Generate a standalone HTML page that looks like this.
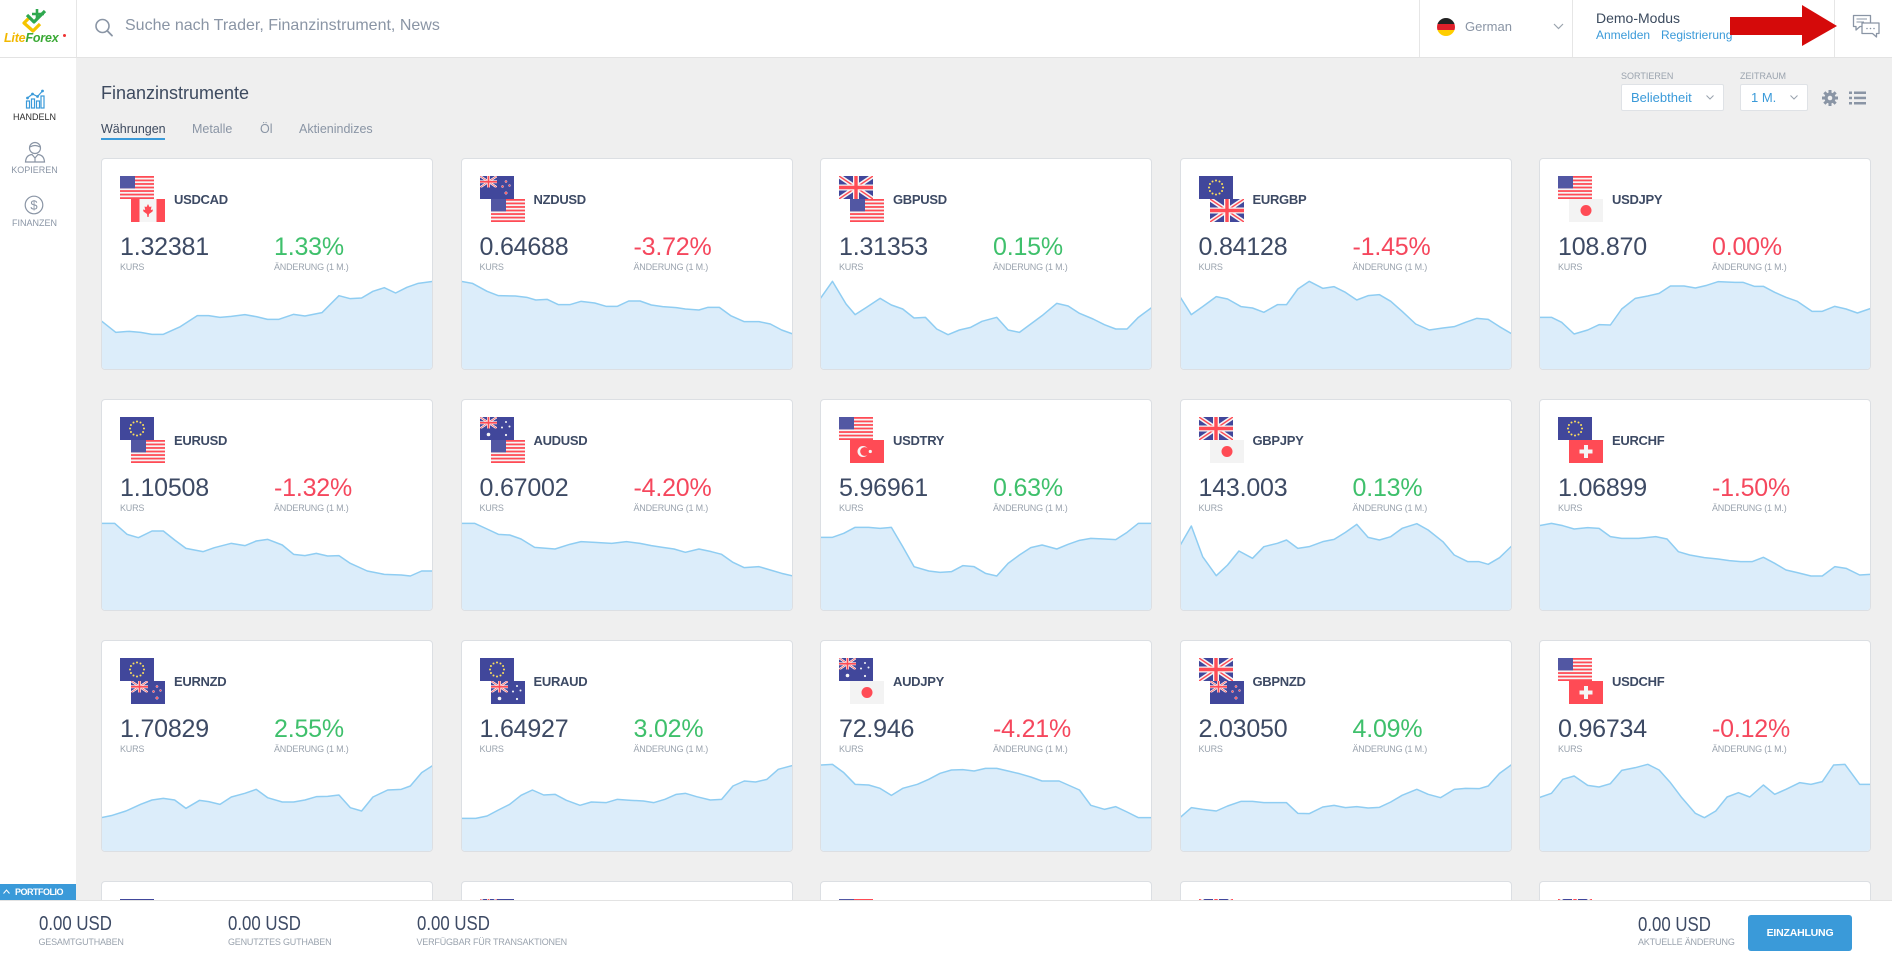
<!DOCTYPE html>
<html style="width:1892px;height:959px;overflow:hidden"><head><meta charset="utf-8">
<style>
*{box-sizing:border-box}
html,body{margin:0;width:1892px;height:959px;overflow:hidden}
body{background:#efefef;position:relative;font-family:"Liberation Sans",Arial,sans-serif}
.abs{position:absolute;white-space:nowrap}
.card{position:absolute;width:332px;height:212px;background:#fff;border:1px solid #dcdfe3;border-radius:4px;overflow:hidden}
.card.short{height:20px;border-bottom:none;border-radius:4px 4px 0 0}
.f1{position:absolute;left:18px;top:17px;width:34px;height:23px}
.f2{position:absolute;left:29px;top:40px;width:34px;height:23px}
.tk{position:absolute;left:72px;top:34px;font-size:13px;line-height:13px;font-weight:bold;color:#3d4a64;letter-spacing:-0.3px}
.pr,.pc{position:absolute;top:76px;font-size:25px;line-height:25px;color:#3d4a64;letter-spacing:-0.2px}
.pr{left:18px}
.pc{left:172px}
.g{color:#3fc06c}
.r{color:#f5475d}
.lb{position:absolute;top:104px;font-size:9px;line-height:9px;color:#9aa3ae;letter-spacing:-0.2px}
.l1{left:18px}.l2{left:172px}
.ch{position:absolute;left:-1px;top:95px;width:332px;height:120px}
.fa{fill:#dcedfa;stroke:none}
.ln{fill:none;stroke:#8fcdf2;stroke-width:1.5;vector-effect:non-scaling-stroke;stroke-linejoin:round}
.sl{font-size:9px;line-height:9px;color:#8a95a5;width:69px;text-align:center;left:0}
.ft{font-size:20px;line-height:20px;color:#3d4a64;transform:scaleX(0.84);transform-origin:left top}
.fl{font-size:9px;line-height:9px;color:#9aa3ae;letter-spacing:-0.2px}
</style></head>
<body>
<svg width="0" height="0" style="position:absolute">
<defs>
<symbol id="gb" viewBox="0 0 34 23">
<rect width="34" height="23" fill="#41479b"/>
<path d="M0,0 L34,23 M34,0 L0,23" stroke="#f5f5f5" stroke-width="4.5"/>
<path d="M0,0 L34,23 M34,0 L0,23" stroke="#ff4b55" stroke-width="1.4"/>
<path d="M17,0 V23 M0,11.5 H34" stroke="#f5f5f5" stroke-width="6"/>
<path d="M17,0 V23 M0,11.5 H34" stroke="#ff4b55" stroke-width="3.4"/>
</symbol>
<symbol id="us" viewBox="0 0 34 23">
<rect width="34" height="23" fill="#f5f5f5"/>
<g fill="#ff4b55"><rect y="0" width="34" height="1.77"/><rect y="3.54" width="34" height="1.77"/><rect y="7.08" width="34" height="1.77"/><rect y="10.62" width="34" height="1.77"/><rect y="14.15" width="34" height="1.77"/><rect y="17.69" width="34" height="1.77"/><rect y="21.23" width="34" height="1.77"/></g>
<rect width="15" height="12.4" fill="#5257a3"/>
</symbol>
<symbol id="ca" viewBox="0 0 34 23">
<rect width="34" height="23" fill="#f5f5f5"/>
<rect width="8.5" height="23" fill="#ff4b55"/><rect x="25.5" width="8.5" height="23" fill="#ff4b55"/>
<polygon fill="#ff4b55" points="17,5 18.5,8 20.5,7.5 19.8,11 22,10.5 21.5,12.5 18,15 17.6,18 16.4,18 16,15 12.5,12.5 12,10.5 14.2,11 13.5,7.5 15.5,8"/>
</symbol>
<symbol id="nz" viewBox="0 0 34 23">
<rect width="34" height="23" fill="#41479b"/>
<use href="#gb" x="0" y="0" width="17" height="11.5"/>
<g fill="#ff4b55" stroke="#f5f5f5" stroke-width="0.4"><circle cx="26" cy="5.5" r="1.1"/><circle cx="22.5" cy="10.5" r="1.1"/><circle cx="29.5" cy="9.5" r="1"/><circle cx="26" cy="17" r="1.3"/></g>
</symbol>
<symbol id="au" viewBox="0 0 34 23">
<rect width="34" height="23" fill="#41479b"/>
<use href="#gb" x="0" y="0" width="17" height="11.5"/>
<g fill="#f5f5f5"><circle cx="8.5" cy="17.5" r="1.8"/><circle cx="26" cy="5" r="1"/><circle cx="22" cy="10.5" r="1"/><circle cx="29.5" cy="9.5" r="1"/><circle cx="26" cy="18" r="1.1"/></g>
</symbol>
<symbol id="eu" viewBox="0 0 34 23">
<rect width="34" height="23" fill="#41479b"/>
<g fill="#ffe15a"><circle cx="17" cy="4.5" r="1"/><circle cx="20.5" cy="5.44" r="1"/><circle cx="23.06" cy="8" r="1"/><circle cx="24" cy="11.5" r="1"/><circle cx="23.06" cy="15" r="1"/><circle cx="20.5" cy="17.56" r="1"/><circle cx="17" cy="18.5" r="1"/><circle cx="13.5" cy="17.56" r="1"/><circle cx="10.94" cy="15" r="1"/><circle cx="10" cy="11.5" r="1"/><circle cx="10.94" cy="8" r="1"/><circle cx="13.5" cy="5.44" r="1"/></g>
</symbol>
<symbol id="jp" viewBox="0 0 34 23">
<rect width="34" height="23" fill="#f3f3f3"/>
<circle cx="17" cy="11.5" r="5.5" fill="#ff4b55"/>
</symbol>
<symbol id="tr" viewBox="0 0 34 23">
<rect width="34" height="23" fill="#ff4b55"/>
<circle cx="13" cy="11.5" r="5.5" fill="#f5f5f5"/><circle cx="14.6" cy="11.5" r="4.4" fill="#ff4b55"/>
<circle cx="20.3" cy="11.5" r="1.6" fill="#f5f5f5"/>
</symbol>
<symbol id="ch" viewBox="0 0 34 23">
<rect width="34" height="23" fill="#ff4b55"/>
<rect x="15" y="5" width="4" height="13" fill="#f5f5f5"/><rect x="10.5" y="9.5" width="13" height="4" fill="#f5f5f5"/>
</symbol>
</defs>
</svg>

<!-- HEADER -->
<div class="abs" style="left:0;top:0;width:1892px;height:58px;background:#fff;border-bottom:1px solid #e3e3e3"></div>
<div class="abs" style="left:76px;top:0;width:1px;height:57px;background:#e6e6e6"></div>
<div class="abs" style="left:1419px;top:0;width:1px;height:57px;background:#e6e6e6"></div>
<div class="abs" style="left:1572px;top:0;width:1px;height:57px;background:#e6e6e6"></div>
<div class="abs" style="left:1834px;top:0;width:1px;height:57px;background:#e6e6e6"></div>

<!-- logo -->
<svg class="abs" style="left:22px;top:6px" width="26" height="27" viewBox="0 0 26 27">
<polyline points="8,11 2,17 11,25 18,18" fill="none" stroke="#f5c400" stroke-width="3.2" stroke-linejoin="round"/>
<polyline points="5,9 12,16 23,5" fill="none" stroke="#2fa84f" stroke-width="3.2" stroke-linejoin="round"/>
<path d="M15,3 L15,13 M10,8 H22" stroke="#2fa84f" stroke-width="2.6"/>
</svg>
<div class="abs" style="left:4px;top:32px;font-size:12.5px;line-height:12.5px;font-weight:bold;font-style:italic;letter-spacing:-0.2px"><span style="color:#f2b800">Lite</span><span style="color:#3aa935">Forex</span></div>
<div class="abs" style="left:63px;top:34px;width:3px;height:3px;border-radius:50%;background:#e33"></div>

<!-- search -->
<svg class="abs" style="left:94px;top:18px" width="20" height="20" viewBox="0 0 20 20">
<circle cx="8.5" cy="8" r="6.5" fill="none" stroke="#8a95a5" stroke-width="1.6"/>
<path d="M13.2,12.8 L18,17.6" stroke="#8a95a5" stroke-width="1.8" stroke-linecap="round"/>
</svg>
<div class="abs" style="left:125px;top:18px;font-size:16px;line-height:16px;color:#8a95a5">Suche nach Trader, Finanzinstrument, News</div>

<!-- language -->
<svg class="abs" style="left:1437px;top:18px" width="18" height="18" viewBox="0 0 18 18">
<defs><clipPath id="cc"><circle cx="9" cy="9" r="9"/></clipPath></defs>
<g clip-path="url(#cc)"><rect width="18" height="6" fill="#222"/><rect y="6" width="18" height="6" fill="#e0202a"/><rect y="12" width="18" height="6" fill="#ffce00"/></g>
</svg>
<div class="abs" style="left:1465px;top:20px;font-size:13px;line-height:13px;color:#8a95a5">German</div>
<svg class="abs" style="left:1553px;top:23px" width="11" height="7" viewBox="0 0 11 7"><path d="M1,1 L5.5,5.5 L10,1" fill="none" stroke="#9aa3ae" stroke-width="1.2"/></svg>

<div class="abs" style="left:1596px;top:11px;font-size:14px;line-height:14px;color:#3b4a5e">Demo-Modus</div>
<div class="abs" style="left:1596px;top:29px;font-size:12px;line-height:12px;color:#3a9ad9">Anmelden</div>
<div class="abs" style="left:1661px;top:29px;font-size:12px;line-height:12px;color:#3a9ad9">Registrierung</div>

<!-- red arrow -->
<svg class="abs" style="left:1728px;top:3px" width="112" height="46" viewBox="1728 3 112 46">
<polygon points="1730,17 1802,17 1802,5 1837,26 1802,46 1802,35 1730,35" fill="#d50a0a"/>
</svg>

<!-- chat icon -->
<svg class="abs" style="left:1852px;top:14px" width="29" height="25" viewBox="0 0 29 25">
<path d="M1.5,1.5 H18.5 V12.5 H8 L4,16 V12.5 H1.5 Z" fill="#fff" stroke="#8a95a5" stroke-width="1.3" stroke-linejoin="round"/>
<path d="M10,9 H27 V19.5 H24.5 V23 L20.5,19.5 H10 Z" fill="#fff" stroke="#8a95a5" stroke-width="1.3" stroke-linejoin="round"/>
<path d="M4.5,5 H15 M4.5,8 H12" stroke="#8a95a5" stroke-width="1"/>
<circle cx="15" cy="14.5" r="0.8" fill="#8a95a5"/><circle cx="18.5" cy="14.5" r="0.8" fill="#8a95a5"/><circle cx="22" cy="14.5" r="0.8" fill="#8a95a5"/>
</svg>

<!-- SIDEBAR -->
<div class="abs" style="left:0;top:58px;width:76px;height:901px;background:#fff"></div>
<svg class="abs" style="left:25px;top:89px" width="20" height="20" viewBox="0 0 20 20">
<g fill="none" stroke="#3a9ad9" stroke-width="1.2">
<rect x="1.5" y="12" width="3" height="7"/><rect x="6.5" y="10" width="3" height="9"/><rect x="11.5" y="12" width="3" height="7"/><rect x="16" y="7" width="3" height="12"/>
<path d="M2.5,9 L7.5,5 L12.5,7.5 L17.5,2"/>
</g>
<g fill="#3a9ad9"><circle cx="2.5" cy="9" r="1.4"/><circle cx="7.5" cy="5" r="1.4"/><circle cx="12.5" cy="7.5" r="1.4"/><circle cx="17.5" cy="2" r="1.4"/></g>
</svg>
<div class="abs sl" style="top:113px;color:#2b2b2b">HANDELN</div>
<svg class="abs" style="left:24px;top:141px" width="22" height="22" viewBox="0 0 22 22">
<g fill="none" stroke="#8a95a5" stroke-width="1.2">
<circle cx="11" cy="7" r="5.5"/><path d="M6,6 Q11,3 16,6"/>
<path d="M1.5,21 Q2,14 8,13.5 L11,17 L14,13.5 Q20,14 20.5,21 Z"/>
<path d="M11,17 V21"/>
</g>
</svg>
<div class="abs sl" style="top:166px">KOPIEREN</div>
<svg class="abs" style="left:24px;top:195px" width="20" height="20" viewBox="0 0 20 20">
<circle cx="10" cy="10" r="8.8" fill="none" stroke="#8a95a5" stroke-width="1.2"/>
<text x="10" y="14.5" text-anchor="middle" font-family="Liberation Sans, sans-serif" font-size="13" fill="#8a95a5">$</text>
</svg>
<div class="abs sl" style="top:219px">FINANZEN</div>

<!-- TITLE / TABS -->
<div class="abs" style="left:101px;top:84px;font-size:18px;line-height:18px;color:#3d4a5f">Finanzinstrumente</div>
<div class="abs" style="left:101px;top:123px;font-size:12.5px;line-height:12.5px;color:#3d4a5f">Währungen</div>
<div class="abs" style="left:192px;top:123px;font-size:12.5px;line-height:12.5px;color:#8a95a5">Metalle</div>
<div class="abs" style="left:260px;top:123px;font-size:12.5px;line-height:12.5px;color:#8a95a5">Öl</div>
<div class="abs" style="left:299px;top:123px;font-size:12.5px;line-height:12.5px;color:#8a95a5">Aktienindizes</div>
<div class="abs" style="left:101px;top:137.5px;width:64px;height:2.2px;background:#3a9ad9"></div>

<!-- controls -->
<div class="abs" style="left:1621px;top:72px;font-size:9px;line-height:9px;color:#9aa3ae">SORTIEREN</div>
<div class="abs" style="left:1621px;top:84px;width:103px;height:27px;background:#fff;border:1px solid #dfe2e6;border-radius:2px"></div>
<div class="abs" style="left:1631px;top:91px;font-size:13px;line-height:13px;color:#3a9ad9">Beliebtheit</div>
<svg class="abs" style="left:1706px;top:95px" width="8" height="5" viewBox="0 0 8 5"><path d="M0.5,0.5 L4,4 L7.5,0.5" fill="none" stroke="#9aa3ae" stroke-width="1"/></svg>
<div class="abs" style="left:1740px;top:72px;font-size:9px;line-height:9px;color:#9aa3ae">ZEITRAUM</div>
<div class="abs" style="left:1740px;top:84px;width:68px;height:27px;background:#fff;border:1px solid #dfe2e6;border-radius:2px"></div>
<div class="abs" style="left:1751px;top:91px;font-size:13px;line-height:13px;color:#3a9ad9">1 M.</div>
<svg class="abs" style="left:1790px;top:95px" width="8" height="5" viewBox="0 0 8 5"><path d="M0.5,0.5 L4,4 L7.5,0.5" fill="none" stroke="#9aa3ae" stroke-width="1"/></svg>
<svg class="abs" style="left:1822px;top:90px" width="16" height="16" viewBox="0 0 16 16">
<g fill="#8a95a5"><circle cx="8" cy="8" r="5.5"/>
<rect x="6.5" y="0" width="3" height="16"/><rect x="0" y="6.5" width="16" height="3"/>
<rect x="6.5" y="0" width="3" height="16" transform="rotate(45 8 8)"/><rect x="6.5" y="0" width="3" height="16" transform="rotate(-45 8 8)"/></g>
<circle cx="8" cy="8" r="2.3" fill="#efefef"/>
</svg>
<svg class="abs" style="left:1849px;top:91px" width="17" height="14" viewBox="0 0 17 14">
<g fill="#8a95a5"><rect x="0" y="0.5" width="3" height="2.5"/><rect x="0" y="5.7" width="3" height="2.5"/><rect x="0" y="11" width="3" height="2.5"/>
<rect x="5" y="0.5" width="12" height="2.5"/><rect x="5" y="5.7" width="12" height="2.5"/><rect x="5" y="11" width="12" height="2.5"/></g>
</svg>

<!-- ROW 1 -->
<div class="card" style="left:101px;top:158px">
<svg class="f1" viewBox="0 0 34 23"><use href="#us"/></svg><svg class="f2" viewBox="0 0 34 23"><use href="#ca"/></svg>
<div class="tk">USDCAD</div><div class="pr">1.32381</div><div class="pc g">1.33%</div>
<div class="lb l1">KURS</div><div class="lb l2">ÄNDERUNG (1 M.)</div>
<svg class="ch" viewBox="0 0 293 360" preserveAspectRatio="none"><path class="fa" d="M0,200 L13,235 25,232 35,235 45,241 55,241 70,218 85,185 95,185 105,190 115,187 127,182 137,188 147,196 157,196 170,181 180,186 195,176 210,125 220,134 230,132 240,112 250,101 260,117 270,100 280,88 293,82 L293,360 L0,360 Z"/><path class="ln" d="M0,200 L13,235 25,232 35,235 45,241 55,241 70,218 85,185 95,185 105,190 115,187 127,182 137,188 147,196 157,196 170,181 180,186 195,176 210,125 220,134 230,132 240,112 250,101 260,117 270,100 280,88 293,82"/></svg>
</div>
<div class="card" style="left:460.5px;top:158px">
<svg class="f1" viewBox="0 0 34 23"><use href="#nz"/></svg><svg class="f2" viewBox="0 0 34 23"><use href="#us"/></svg>
<div class="tk">NZDUSD</div><div class="pr">0.64688</div><div class="pc r">-3.72%</div>
<div class="lb l1">KURS</div><div class="lb l2">ÄNDERUNG (1 M.)</div>
<svg class="ch" viewBox="0 0 293 360" preserveAspectRatio="none"><path class="fa" d="M0,82 L10,88 23,112 33,125 48,126 58,130 66,138 76,136 86,152 96,152 106,142 118,147 128,157 138,157 148,141 158,141 168,153 178,158 190,161 198,165 210,168 218,160 228,160 238,185 250,203 263,203 273,210 283,228 293,240 L293,360 L0,360 Z"/><path class="ln" d="M0,82 L10,88 23,112 33,125 48,126 58,130 66,138 76,136 86,152 96,152 106,142 118,147 128,157 138,157 148,141 158,141 168,153 178,158 190,161 198,165 210,168 218,160 228,160 238,185 250,203 263,203 273,210 283,228 293,240"/></svg>
</div>
<div class="card" style="left:820px;top:158px">
<svg class="f1" viewBox="0 0 34 23"><use href="#gb"/></svg><svg class="f2" viewBox="0 0 34 23"><use href="#us"/></svg>
<div class="tk">GBPUSD</div><div class="pr">1.31353</div><div class="pc g">0.15%</div>
<div class="lb l1">KURS</div><div class="lb l2">ÄNDERUNG (1 M.)</div>
<svg class="ch" viewBox="0 0 293 360" preserveAspectRatio="none"><path class="fa" d="M0,135 L11,82 23,150 31,182 41,160 53,133 63,153 73,165 83,192 93,190 103,225 113,242 123,228 133,220 143,202 156,190 166,228 176,235 186,210 196,185 209,148 219,156 229,178 241,195 251,212 261,225 271,225 281,190 293,160 L293,360 L0,360 Z"/><path class="ln" d="M0,135 L11,82 23,150 31,182 41,160 53,133 63,153 73,165 83,192 93,190 103,225 113,242 123,228 133,220 143,202 156,190 166,228 176,235 186,210 196,185 209,148 219,156 229,178 241,195 251,212 261,225 271,225 281,190 293,160"/></svg>
</div>
<div class="card" style="left:1179.5px;top:158px">
<svg class="f1" viewBox="0 0 34 23"><use href="#eu"/></svg><svg class="f2" viewBox="0 0 34 23"><use href="#gb"/></svg>
<div class="tk">EURGBP</div><div class="pr">0.84128</div><div class="pc r">-1.45%</div>
<div class="lb l1">KURS</div><div class="lb l2">ÄNDERUNG (1 M.)</div>
<svg class="ch" viewBox="0 0 293 360" preserveAspectRatio="none"><path class="fa" d="M0,128 L10,182 20,158 32,128 42,135 54,158 64,162 74,175 86,152 94,152 104,105 114,82 126,103 136,98 146,115 156,138 166,125 176,122 186,142 196,172 208,210 220,228 232,222 242,218 252,205 262,193 272,196 282,218 293,240 L293,360 L0,360 Z"/><path class="ln" d="M0,128 L10,182 20,158 32,128 42,135 54,158 64,162 74,175 86,152 94,152 104,105 114,82 126,103 136,98 146,115 156,138 166,125 176,122 186,142 196,172 208,210 220,228 232,222 242,218 252,205 262,193 272,196 282,218 293,240"/></svg>
</div>
<div class="card" style="left:1539px;top:158px">
<svg class="f1" viewBox="0 0 34 23"><use href="#us"/></svg><svg class="f2" viewBox="0 0 34 23"><use href="#jp"/></svg>
<div class="tk">USDJPY</div><div class="pr">108.870</div><div class="pc r">0.00%</div>
<div class="lb l1">KURS</div><div class="lb l2">ÄNDERUNG (1 M.)</div>
<svg class="ch" viewBox="0 0 293 360" preserveAspectRatio="none"><path class="fa" d="M0,190 L11,190 20,205 31,240 43,228 53,212 63,213 73,165 85,133 96,126 106,118 116,96 128,96 138,102 148,94 158,83 173,85 180,85 190,97 198,97 208,115 218,130 228,142 241,172 250,172 261,157 271,165 281,177 293,163 L293,360 L0,360 Z"/><path class="ln" d="M0,190 L11,190 20,205 31,240 43,228 53,212 63,213 73,165 85,133 96,126 106,118 116,96 128,96 138,102 148,94 158,83 173,85 180,85 190,97 198,97 208,115 218,130 228,142 241,172 250,172 261,157 271,165 281,177 293,163"/></svg>
</div>

<!-- ROW 2 -->
<div class="card" style="left:101px;top:399px">
<svg class="f1" viewBox="0 0 34 23"><use href="#eu"/></svg><svg class="f2" viewBox="0 0 34 23"><use href="#us"/></svg>
<div class="tk">EURUSD</div><div class="pr">1.10508</div><div class="pc r">-1.32%</div>
<div class="lb l1">KURS</div><div class="lb l2">ÄNDERUNG (1 M.)</div>
<svg class="ch" viewBox="0 0 293 360" preserveAspectRatio="none"><path class="fa" d="M0,85 L12,85 23,118 33,128 45,108 55,108 65,135 75,160 90,170 100,158 115,145 127,152 137,138 147,133 160,150 170,178 180,182 190,175 200,183 210,182 220,205 235,228 250,238 265,240 273,243 283,228 293,228 L293,360 L0,360 Z"/><path class="ln" d="M0,85 L12,85 23,118 33,128 45,108 55,108 65,135 75,160 90,170 100,158 115,145 127,152 137,138 147,133 160,150 170,178 180,182 190,175 200,183 210,182 220,205 235,228 250,238 265,240 273,243 283,228 293,228"/></svg>
</div>
<div class="card" style="left:460.5px;top:399px">
<svg class="f1" viewBox="0 0 34 23"><use href="#au"/></svg><svg class="f2" viewBox="0 0 34 23"><use href="#us"/></svg>
<div class="tk">AUDUSD</div><div class="pr">0.67002</div><div class="pc r">-4.20%</div>
<div class="lb l1">KURS</div><div class="lb l2">ÄNDERUNG (1 M.)</div>
<svg class="ch" viewBox="0 0 293 360" preserveAspectRatio="none"><path class="fa" d="M0,85 L12,85 23,102 33,118 43,120 53,132 65,157 83,162 96,148 106,140 118,142 133,145 146,140 158,145 168,152 178,157 188,162 198,172 210,162 221,170 230,178 240,202 250,218 263,215 273,225 283,235 293,243 L293,360 L0,360 Z"/><path class="ln" d="M0,85 L12,85 23,102 33,118 43,120 53,132 65,157 83,162 96,148 106,140 118,142 133,145 146,140 158,145 168,152 178,157 188,162 198,172 210,162 221,170 230,178 240,202 250,218 263,215 273,225 283,235 293,243"/></svg>
</div>
<div class="card" style="left:820px;top:399px">
<svg class="f1" viewBox="0 0 34 23"><use href="#us"/></svg><svg class="f2" viewBox="0 0 34 23"><use href="#tr"/></svg>
<div class="tk">USDTRY</div><div class="pr">5.96961</div><div class="pc g">0.63%</div>
<div class="lb l1">KURS</div><div class="lb l2">ÄNDERUNG (1 M.)</div>
<svg class="ch" viewBox="0 0 293 360" preserveAspectRatio="none"><path class="fa" d="M0,127 L11,127 21,115 31,97 43,97 53,100 63,97 73,155 83,215 96,228 106,232 116,230 126,212 136,215 146,235 156,243 166,205 176,180 186,158 196,150 209,162 219,148 229,136 239,130 251,132 261,134 271,112 281,85 293,85 L293,360 L0,360 Z"/><path class="ln" d="M0,127 L11,127 21,115 31,97 43,97 53,100 63,97 73,155 83,215 96,228 106,232 116,230 126,212 136,215 146,235 156,243 166,205 176,180 186,158 196,150 209,162 219,148 229,136 239,130 251,132 261,134 271,112 281,85 293,85"/></svg>
</div>
<div class="card" style="left:1179.5px;top:399px">
<svg class="f1" viewBox="0 0 34 23"><use href="#gb"/></svg><svg class="f2" viewBox="0 0 34 23"><use href="#jp"/></svg>
<div class="tk">GBPJPY</div><div class="pr">143.003</div><div class="pc g">0.13%</div>
<div class="lb l1">KURS</div><div class="lb l2">ÄNDERUNG (1 M.)</div>
<svg class="ch" viewBox="0 0 293 360" preserveAspectRatio="none"><path class="fa" d="M0,152 L10,93 20,185 32,242 42,210 52,168 64,190 74,155 86,145 94,135 104,160 114,155 126,140 136,133 146,112 156,88 166,127 176,135 186,125 196,100 209,86 219,105 232,140 242,180 254,200 264,200 272,208 282,188 293,152 L293,360 L0,360 Z"/><path class="ln" d="M0,152 L10,93 20,185 32,242 42,210 52,168 64,190 74,155 86,145 94,135 104,160 114,155 126,140 136,133 146,112 156,88 166,127 176,135 186,125 196,100 209,86 219,105 232,140 242,180 254,200 264,200 272,208 282,188 293,152"/></svg>
</div>
<div class="card" style="left:1539px;top:399px">
<svg class="f1" viewBox="0 0 34 23"><use href="#eu"/></svg><svg class="f2" viewBox="0 0 34 23"><use href="#ch"/></svg>
<div class="tk">EURCHF</div><div class="pr">1.06899</div><div class="pc r">-1.50%</div>
<div class="lb l1">KURS</div><div class="lb l2">ÄNDERUNG (1 M.)</div>
<svg class="ch" viewBox="0 0 293 360" preserveAspectRatio="none"><path class="fa" d="M0,92 L11,85 21,92 31,102 43,98 53,100 63,125 73,130 88,130 103,125 113,132 123,170 133,180 146,188 158,192 168,197 178,200 188,200 198,187 208,205 218,225 228,233 240,243 250,243 261,215 271,220 283,240 293,238 L293,360 L0,360 Z"/><path class="ln" d="M0,92 L11,85 21,92 31,102 43,98 53,100 63,125 73,130 88,130 103,125 113,132 123,170 133,180 146,188 158,192 168,197 178,200 188,200 198,187 208,205 218,225 228,233 240,243 250,243 261,215 271,220 283,240 293,238"/></svg>
</div>

<!-- ROW 3 -->
<div class="card" style="left:101px;top:640px">
<svg class="f1" viewBox="0 0 34 23"><use href="#eu"/></svg><svg class="f2" viewBox="0 0 34 23"><use href="#nz"/></svg>
<div class="tk">EURNZD</div><div class="pr">1.70829</div><div class="pc g">2.55%</div>
<div class="lb l1">KURS</div><div class="lb l2">ÄNDERUNG (1 M.)</div>
<svg class="ch" viewBox="0 0 293 360" preserveAspectRatio="none"><path class="fa" d="M0,245 L10,238 22,225 35,205 45,192 55,187 65,192 75,217 87,193 95,197 105,205 115,183 127,172 137,160 147,185 160,198 170,198 180,192 190,182 200,181 210,177 220,215 230,225 240,183 253,162 265,160 273,150 283,110 293,88 L293,360 L0,360 Z"/><path class="ln" d="M0,245 L10,238 22,225 35,205 45,192 55,187 65,192 75,217 87,193 95,197 105,205 115,183 127,172 137,160 147,185 160,198 170,198 180,192 190,182 200,181 210,177 220,215 230,225 240,183 253,162 265,160 273,150 283,110 293,88"/></svg>
</div>
<div class="card" style="left:460.5px;top:640px">
<svg class="f1" viewBox="0 0 34 23"><use href="#eu"/></svg><svg class="f2" viewBox="0 0 34 23"><use href="#au"/></svg>
<div class="tk">EURAUD</div><div class="pr">1.64927</div><div class="pc g">3.02%</div>
<div class="lb l1">KURS</div><div class="lb l2">ÄNDERUNG (1 M.)</div>
<svg class="ch" viewBox="0 0 293 360" preserveAspectRatio="none"><path class="fa" d="M0,247 L13,247 23,240 33,222 43,205 53,178 63,162 73,177 83,175 93,193 105,208 115,198 128,200 138,190 150,193 161,195 170,200 180,190 190,175 198,172 208,182 220,192 230,190 240,150 250,135 260,138 270,130 280,100 293,88 L293,360 L0,360 Z"/><path class="ln" d="M0,247 L13,247 23,240 33,222 43,205 53,178 63,162 73,177 83,175 93,193 105,208 115,198 128,200 138,190 150,193 161,195 170,200 180,190 190,175 198,172 208,182 220,192 230,190 240,150 250,135 260,138 270,130 280,100 293,88"/></svg>
</div>
<div class="card" style="left:820px;top:640px">
<svg class="f1" viewBox="0 0 34 23"><use href="#au"/></svg><svg class="f2" viewBox="0 0 34 23"><use href="#jp"/></svg>
<div class="tk">AUDJPY</div><div class="pr">72.946</div><div class="pc r">-4.21%</div>
<div class="lb l1">KURS</div><div class="lb l2">ÄNDERUNG (1 M.)</div>
<svg class="ch" viewBox="0 0 293 360" preserveAspectRatio="none"><path class="fa" d="M0,87 L11,85 21,110 31,145 43,147 53,157 63,178 73,157 86,145 96,130 106,112 116,102 126,101 136,105 146,97 156,97 166,105 176,113 186,123 196,135 211,135 219,147 229,162 239,208 251,220 261,212 271,228 281,245 293,245 L293,360 L0,360 Z"/><path class="ln" d="M0,87 L11,85 21,110 31,145 43,147 53,157 63,178 73,157 86,145 96,130 106,112 116,102 126,101 136,105 146,97 156,97 166,105 176,113 186,123 196,135 211,135 219,147 229,162 239,208 251,220 261,212 271,228 281,245 293,245"/></svg>
</div>
<div class="card" style="left:1179.5px;top:640px">
<svg class="f1" viewBox="0 0 34 23"><use href="#gb"/></svg><svg class="f2" viewBox="0 0 34 23"><use href="#nz"/></svg>
<div class="tk">GBPNZD</div><div class="pr">2.03050</div><div class="pc g">4.09%</div>
<div class="lb l1">KURS</div><div class="lb l2">ÄNDERUNG (1 M.)</div>
<svg class="ch" viewBox="0 0 293 360" preserveAspectRatio="none"><path class="fa" d="M0,245 L10,215 20,220 32,225 42,210 54,196 64,196 74,200 84,200 94,200 104,232 114,233 126,213 136,208 146,215 156,212 166,216 176,214 186,198 196,178 209,160 219,175 230,185 242,160 252,157 264,158 272,150 282,112 293,85 L293,360 L0,360 Z"/><path class="ln" d="M0,245 L10,215 20,220 32,225 42,210 54,196 64,196 74,200 84,200 94,200 104,232 114,233 126,213 136,208 146,215 156,212 166,216 176,214 186,198 196,178 209,160 219,175 230,185 242,160 252,157 264,158 272,150 282,112 293,85"/></svg>
</div>
<div class="card" style="left:1539px;top:640px">
<svg class="f1" viewBox="0 0 34 23"><use href="#us"/></svg><svg class="f2" viewBox="0 0 34 23"><use href="#ch"/></svg>
<div class="tk">USDCHF</div><div class="pr">0.96734</div><div class="pc r">-0.12%</div>
<div class="lb l1">KURS</div><div class="lb l2">ÄNDERUNG (1 M.)</div>
<svg class="ch" viewBox="0 0 293 360" preserveAspectRatio="none"><path class="fa" d="M0,185 L11,172 21,130 31,120 43,148 53,153 63,143 73,103 85,95 96,85 106,102 116,140 126,185 138,232 146,245 156,225 166,183 176,170 186,183 198,147 208,175 218,160 230,140 240,145 250,137 260,87 270,85 283,145 293,145 L293,360 L0,360 Z"/><path class="ln" d="M0,185 L11,172 21,130 31,120 43,148 53,153 63,143 73,103 85,95 96,85 106,102 116,140 126,185 138,232 146,245 156,225 166,183 176,170 186,183 198,147 208,175 218,160 230,140 240,145 250,137 260,87 270,85 283,145 293,145"/></svg>
</div>

<!-- ROW 4 (partially visible, clipped at footer) -->
<div class="card short" style="left:101px;top:881px"><svg class="f1" viewBox="0 0 34 23"><use href="#eu"/></svg></div>
<div class="card short" style="left:460.5px;top:881px"><svg class="f1" viewBox="0 0 34 23"><use href="#au"/></svg></div>
<div class="card short" style="left:820px;top:881px"><svg class="f1" viewBox="0 0 34 23"><use href="#us"/></svg></div>
<div class="card short" style="left:1179.5px;top:881px"><svg class="f1" viewBox="0 0 34 23"><use href="#gb"/></svg></div>
<div class="card short" style="left:1539px;top:881px"><svg class="f1" viewBox="0 0 34 23"><use href="#gb"/></svg></div>

<!-- PORTFOLIO tab -->
<div class="abs" style="left:0;top:884px;width:76px;height:17px;background:#3a9ad9"></div>
<svg class="abs" style="left:3px;top:889px" width="7" height="5" viewBox="0 0 7 5"><path d="M0.5,4.5 L3.5,1 L6.5,4.5" fill="none" stroke="#fff" stroke-width="1"/></svg>
<div class="abs" style="left:15px;top:888px;font-size:9px;line-height:9px;font-weight:bold;color:#fff;letter-spacing:-0.5px">PORTFOLIO</div>

<!-- FOOTER -->
<div class="abs" style="left:0;top:900px;width:1892px;height:59px;background:#fff;border-top:1px solid #e3e3e3"></div>
<div class="abs ft" style="left:38.5px;top:914px">0.00 USD</div>
<div class="abs fl" style="left:38.5px;top:938px">GESAMTGUTHABEN</div>
<div class="abs ft" style="left:228px;top:914px">0.00 USD</div>
<div class="abs fl" style="left:228px;top:938px">GENUTZTES GUTHABEN</div>
<div class="abs ft" style="left:416.5px;top:914px">0.00 USD</div>
<div class="abs fl" style="left:416.5px;top:938px">VERFÜGBAR FÜR TRANSAKTIONEN</div>
<div class="abs ft" style="left:1638px;top:915px">0.00 USD</div>
<div class="abs fl" style="left:1638px;top:938px">AKTUELLE ÄNDERUNG</div>
<div class="abs" style="left:1748px;top:915px;width:104px;height:36px;background:#3a9ad9;border-radius:3px;color:#fff;font-size:10.5px;font-weight:bold;line-height:36px;text-align:center;letter-spacing:-0.2px">EINZAHLUNG</div>
</body></html>
